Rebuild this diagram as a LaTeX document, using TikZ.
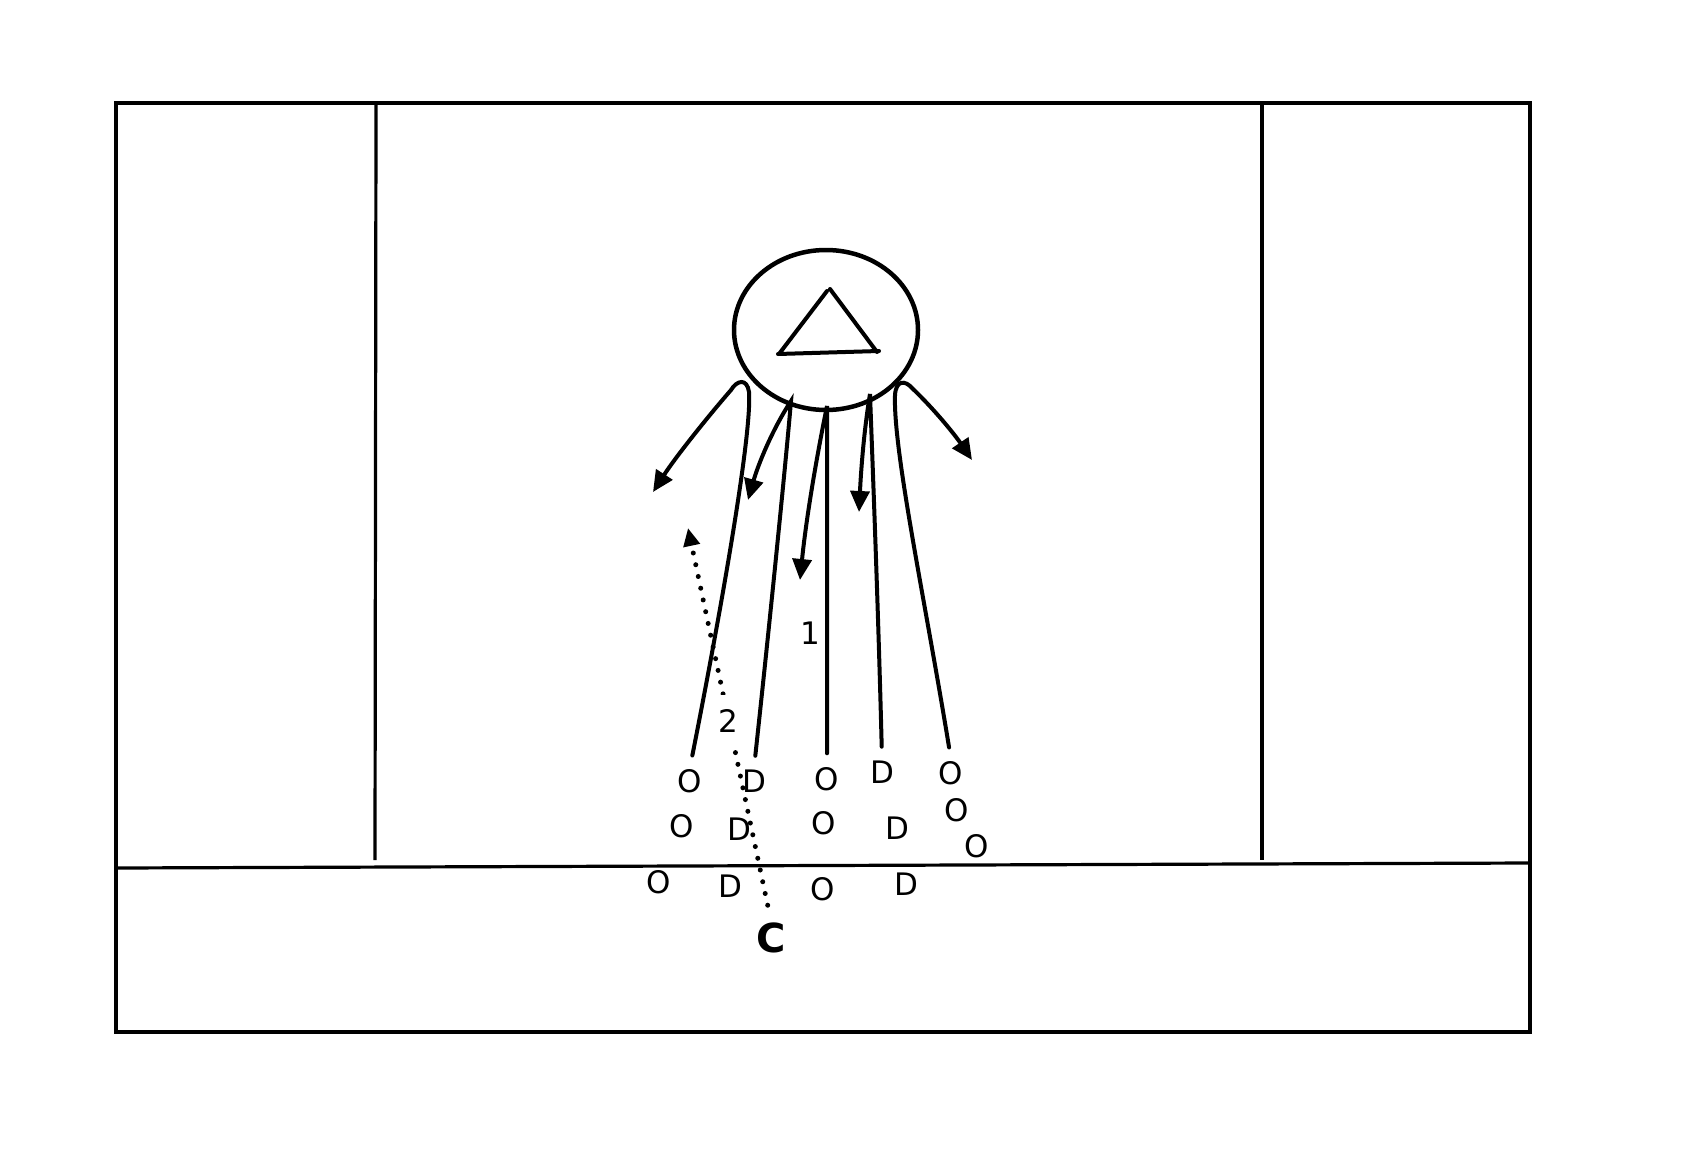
\documentclass[tikz,border=0pt]{standalone}
\usepackage{fontspec}
\setmainfont{DejaVu Sans}
\usepackage{tikz}
\usetikzlibrary{shapes.geometric, arrows.meta}

\begin{document}
\begin{tikzpicture}[
    x=1pt, y=-1pt,
    line width=4pt,
    field/.style   = {draw, line width=3.2pt},
    coach/.style   = {draw, ellipse, minimum width=184pt, minimum height=160pt, line width=4.5pt},
    player/.style  = {font=\fontsize{31}{36}\selectfont, inner sep=0pt},
    numlabel/.style= {font=\fontsize{31}{36}\selectfont, inner sep=4pt},
    run/.style     = {draw, line cap=round, shorten <=12pt, -{Triangle[length=21pt, width=19pt]}},
    pass/.style    = {draw, line width=5pt, line cap=round, dash pattern=on 0pt off 12pt,
                      shorten <=16pt, -{Triangle[length=18pt, width=16pt]}},
  ]
  \useasboundingbox (0,0) rectangle (1702,1172);

  % pitch
  \draw[field] (116,103) rectangle (1530,1032);
  \draw[field] (376,104) -- (375,860);
  \draw[field] (1262,104) -- (1262,860);
  \draw[field] (117,868) -- (1530,863);

  % coach with cone
  \node[coach] (coach) at (826,330) {};
  \draw[line cap=round] (779,354) -- (827,291) (830,289) -- (877,352) (778,354) -- (879,351);

  % players
  \node[player] (l1) at (690,781) {O};
  \node[player] (l2) at (682,826) {O};
  \node[player] (l3) at (659,882) {O};
  \node[player] (dl1) at (754,781) {D};
  \node[player] (dl2) at (739,829) {D};
  \node[player] (dl3) at (730,886) {D};
  \node[player] (m1) at (827,779) {O};
  \node[player] (m2) at (824,823) {O};
  \node[player] (m3) at (823,889) {O};
  \node[player] (dr1) at (882,772) {D};
  \node[player] (dr2) at (897,828) {D};
  \node[player] (dr3) at (906,884) {D};
  \node[player] (r1) at (951,773) {O};
  \node[player] (r2) at (957,810) {O};
  \node[player] (r3) at (977,846) {O};
  \node[font=\fontsize{40}{46}\selectfont\bfseries, inner sep=0pt] (c) at (771,938) {C};
  \node[numlabel] (one) at (810,633) {1};

  % where the runs end
  \coordinate (a1) at (653,492);
  \coordinate (a2) at (748,500);
  \coordinate (a3) at (800,580);
  \coordinate (a4) at (859,512);
  \coordinate (a5) at (972,460);
  \coordinate (a6) at (688,528);

  % runs
  \draw[run] (l1.north) .. controls (725,590) and (752,430) .. (749,392)
    .. controls (747,378) and (737,380) .. (731,390) .. controls (705,420) and (675,458) .. (a1);
  \draw[run] (dl1.north) .. controls (770,620) and (786,460) .. (791,401)
    .. controls (772,430) and (758,465) .. (a2);
  \draw[run] (m1.north) -- (827,406) .. controls (816,460) and (806,520) .. (a3);
  \draw[run] (dr1.north) .. controls (878,600) and (872,450) .. (870,394)
    .. controls (864,430) and (861,470) .. (a4);
  \draw[run] (r1.north) .. controls (925,600) and (893,450) .. (895,395)
    .. controls (896,380) and (905,380) .. (912,388) .. controls (935,410) and (955,435) .. (a5);

  % pass
  \draw[pass] (c.north) -- node[numlabel, fill=white, inner ysep=14pt, pos=.51] (two) {2} (a6);
\end{tikzpicture}
\end{document}
